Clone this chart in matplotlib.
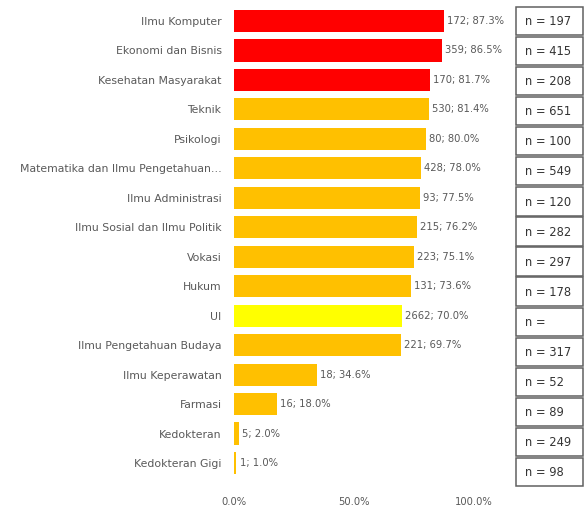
import matplotlib
matplotlib.use("Agg")
import matplotlib.pyplot as plt
from matplotlib.patches import Rectangle

plt.rcParams['font.family'] = ['DejaVu Sans']

categories = ["Ilmu Komputer", "Ekonomi dan Bisnis", "Kesehatan Masyarakat", "Teknik",
              "Psikologi", "Matematika dan Ilmu Pengetahuan…", "Ilmu Administrasi",
              "Ilmu Sosial dan Ilmu Politik", "Vokasi", "Hukum", "UI",
              "Ilmu Pengetahuan Budaya", "Ilmu Keperawatan", "Farmasi", "Kedokteran",
              "Kedokteran Gigi"]
counts = [172, 359, 170, 530, 80, 428, 93, 215, 223, 131, 2662, 221, 18, 16, 5, 1]
percents = [87.3, 86.5, 81.7, 81.4, 80.0, 78.0, 77.5, 76.2, 75.1, 73.6, 70.0, 69.7,
            34.6, 18.0, 2.0, 1.0]
colors = ["#FF0000"] * 3 + ["#FFC000"] * 7 + ["#FFFF00"] + ["#FFC000"] * 5
n_labels = ["n = 197", "n = 415", "n = 208", "n = 651", "n = 100", "n = 549", "n = 120",
            "n = 282", "n = 297", "n = 178", "n = ", "n = 317", "n = 52", "n = 89",
            "n = 249", "n = 98"]
xticks = [0, 50, 100]
xticklabels = ["0.0%", "50.0%", "100.0%"]

W, H = 588, 517
fig = plt.figure(figsize=(W / 100, H / 100), dpi=100)

# main bar axes
left_px, right_px = 234, 474
top_px, bot_px = 6.25, 477.75
ax = fig.add_axes([left_px / W, 1 - bot_px / H, (right_px - left_px) / W, (bot_px - top_px) / H])
ypos = list(range(len(categories)))
ax.barh(ypos, percents, height=0.75, color=colors)
ax.set_ylim(len(categories) - 0.5, -0.5)
ax.set_xlim(0, 100)
ax.set_yticks(ypos)
ax.set_yticklabels(categories, fontsize=7.8, color="#595959")
ax.set_xticks(xticks)
ax.set_xticklabels(xticklabels, fontsize=7.2, color="#595959")
ax.tick_params(axis='both', length=0)
ax.tick_params(axis='y', pad=9)
ax.tick_params(axis='x', pad=14)
for s in ax.spines.values():
    s.set_visible(False)
for y, c, p in zip(ypos, counts, percents):
    ax.text(p + 1.3, y, f"{c}; {p:.1f}%", va='center', ha='left', fontsize=7.2,
            color="#595959", clip_on=False)

# n boxes
bx0, bx1 = 516, 583
by0, by1 = 6, 487
ax2 = fig.add_axes([bx0 / W, 1 - by1 / H, (bx1 - bx0) / W, (by1 - by0) / H])
ax2.set_xlim(0, 1)
ax2.set_ylim(len(n_labels), 0)
ax2.axis('off')
for i, lab in enumerate(n_labels):
    ax2.add_patch(Rectangle((0, i + 0.03), 1, 0.94, facecolor='white', edgecolor='#606060',
                            linewidth=1.1, clip_on=False))
    ax2.text(0.13, i + 0.52, lab, va='center', ha='left', fontsize=8.3, color="#333333")

fig.savefig("out.png", dpi=100)
